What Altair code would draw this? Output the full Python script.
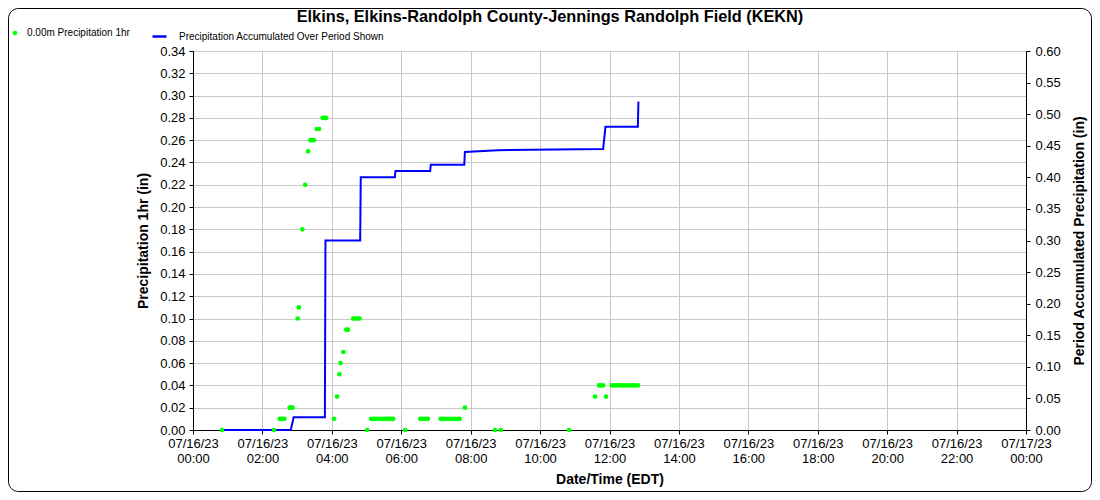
import altair as alt
import pandas as pd

DAY = "2023-07-16T"

# Hourly precipitation reports (time EDT, inches)
pt_times = [
    "00:50", "02:20", "02:30", "02:34", "02:38", "02:47", "02:50", "02:52",
    "03:01", "03:03", "03:09", "03:14", "03:19", "03:23", "03:26", "03:29",
    "03:34", "03:38", "03:44", "03:47", "03:50",
    "04:04", "04:09", "04:13", "04:15", "04:20", "04:25", "04:28",
    "04:37", "04:40", "04:44", "04:48",
    "05:01", "05:08", "05:12", "05:16", "05:20", "05:24", "05:28", "05:32",
    "05:36", "05:40", "05:44", "05:46",
    "06:07", "06:33", "06:37", "06:41", "06:46",
    "07:08", "07:13", "07:18", "07:23", "07:28", "07:33", "07:38", "07:41",
    "07:50", "08:42", "08:52", "10:50",
    "11:35", "11:42", "11:45", "11:49", "11:54",
    "12:04", "12:08", "12:13", "12:17", "12:22", "12:26", "12:31", "12:35",
    "12:40", "12:44", "12:49",
]
pt_values = [
    0.00, 0.00, 0.01, 0.01, 0.01, 0.02, 0.02, 0.02,
    0.10, 0.11, 0.18, 0.22, 0.25, 0.26, 0.26, 0.26,
    0.27, 0.27, 0.28, 0.28, 0.28,
    0.01, 0.03, 0.05, 0.06, 0.07, 0.09, 0.09,
    0.10, 0.10, 0.10, 0.10,
    0.00, 0.01, 0.01, 0.01, 0.01, 0.01, 0.01, 0.01,
    0.01, 0.01, 0.01, 0.01,
    0.00, 0.01, 0.01, 0.01, 0.01,
    0.01, 0.01, 0.01, 0.01, 0.01, 0.01, 0.01, 0.01,
    0.02, 0.00, 0.00, 0.00,
    0.03, 0.04, 0.04, 0.04, 0.03,
    0.04, 0.04, 0.04, 0.04, 0.04, 0.04, 0.04, 0.04,
    0.04, 0.04, 0.04,
]

# Accumulated precipitation over the period (time EDT, inches)
acc_times = [
    "00:50", "02:49", "02:54", "03:48", "03:49", "04:49", "04:50",
    "05:49", "05:50", "06:50", "06:51", "07:49", "07:50", "08:47",
    "11:49", "11:53", "12:49", "12:50",
]
acc_values = [
    0.00, 0.00, 0.02, 0.02, 0.30, 0.30, 0.40,
    0.40, 0.41, 0.41, 0.42, 0.42, 0.44, 0.443,
    0.445, 0.48, 0.48, 0.52,
]

left_ticks = [0.00, 0.02, 0.04, 0.06, 0.08, 0.10, 0.12, 0.14, 0.16, 0.18,
              0.20, 0.22, 0.24, 0.26, 0.28, 0.30, 0.32, 0.34]
right_ticks = [0.00, 0.05, 0.10, 0.15, 0.20, 0.25, 0.30, 0.35, 0.40, 0.45,
               0.50, 0.55, 0.60]
x_tick_hours = [0, 2, 4, 6, 8, 10, 12, 14, 16, 18, 20, 22, 24]

title_text = "Elkins, Elkins-Randolph County-Jennings Randolph Field (KEKN)"
pt_label = "0.00m Precipitation 1hr"
acc_label = "Precipitation Accumulated Over Period Shown"

FONT = "Liberation Sans"

pts = pd.DataFrame({
    "time": [DAY + t + ":00" for t in pt_times],
    "precip": pt_values,
    "series": pt_label,
})
acc = pd.DataFrame({
    "time": [DAY + t + ":00" for t in acc_times],
    "acc": acc_values,
    "series": acc_label,
})


def dt(h):
    return alt.DateTime(year=2023, month=7, date=16 + h // 24, hours=h % 24)


x_enc = alt.X(
    "time:T",
    scale=alt.Scale(domain=[dt(0), dt(24)]),
    axis=alt.Axis(
        title="Date/Time (EDT)",
        values=[dt(h) for h in x_tick_hours],
        labelExpr="[timeFormat(datum.value, '%m/%d/%y'), timeFormat(datum.value, '%H:%M')]",
        labelLineHeight=15,
        labelFontSize=13,
        labelFont=FONT,
        labelColor="black",
        labelAngle=0,
        labelFlush=False,
        labelOverlap=False,
        labelPadding=3,
        tickSize=4,
        tickColor="black",
        domainColor="black",
        grid=True,
        gridColor="#c8c8c8",
        titleFont=FONT,
        titleFontSize=14,
        titleFontWeight="bold",
        titleColor="black",
        titleBaseline="middle",
        titleY=49,
    ),
)

points = alt.Chart(pts).mark_point(filled=True, size=22, opacity=1).encode(
    x=x_enc,
    y=alt.Y(
        "precip:Q",
        scale=alt.Scale(domain=[0, 0.34], nice=False, zero=True),
        axis=alt.Axis(
            title="Precipitation 1hr (in)",
            values=left_ticks,
            format=".2f",
            labelFontSize=13,
            labelFont=FONT,
            labelColor="black",
            labelPadding=4,
            tickSize=4,
            tickColor="black",
            domainColor="black",
            grid=True,
            gridColor="#c8c8c8",
            titleFont=FONT,
            titleFontSize=14,
            titleFontWeight="bold",
            titleColor="black",
            titleAngle=270,
            titleAlign="center",
            titleBaseline="middle",
            titleX=-50,
            titleY=189.5,
        ),
    ),
    color=alt.Color(
        "series:N",
        scale=alt.Scale(range=["#00ff00"]),
        legend=alt.Legend(
            title=None,
            orient="none",
            legendX=-183,
            legendY=-23,
            symbolType="circle",
            symbolSize=22,
            labelFontSize=10,
            labelFont=FONT,
            labelColor="black",
            labelOffset=7,
            labelLimit=400,
        ),
    ),
)

line = alt.Chart(acc).mark_line(strokeWidth=2, interpolate="linear").encode(
    x=x_enc,
    y=alt.Y(
        "acc:Q",
        scale=alt.Scale(domain=[0, 0.6], nice=False, zero=True),
        axis=alt.Axis(
            title="Period Accumulated Precipitation (in)",
            orient="right",
            values=right_ticks,
            format=".2f",
            labelFontSize=13,
            labelFont=FONT,
            labelColor="black",
            labelPadding=5,
            tickSize=4,
            tickColor="black",
            domainColor="black",
            grid=False,
            titleFont=FONT,
            titleFontSize=14,
            titleFontWeight="bold",
            titleColor="black",
            titleAngle=270,
            titleAlign="center",
            titleBaseline="middle",
            titleX=53,
            titleY=189.5,
        ),
    ),
    color=alt.Color(
        "series:N",
        scale=alt.Scale(range=["#0000ff"]),
        legend=alt.Legend(
            title=None,
            orient="none",
            legendX=-42,
            legendY=-23,
            symbolType="stroke",
            symbolSize=196,
            symbolStrokeWidth=2.5,
            labelFontSize=10,
            labelFont=FONT,
            labelColor="black",
            labelOffset=11,
            labelLimit=400,
        ),
    ),
)

frame = alt.Chart(pd.DataFrame({"a": [0]})).mark_rect(
    fill=None, stroke="black", strokeWidth=1, cornerRadius=10
).encode(
    x=alt.value(-184.5), x2=alt.value(898.5),
    y=alt.value(-42.5), y2=alt.value(440.5),
)

chart = (
    alt.layer(frame, line, points)
    .resolve_scale(y="independent", color="independent")
    .resolve_legend(color="independent")
    .properties(
        width=833,
        height=379,
        autosize=alt.AutoSizeParams(type="none"),
        padding={"left": 185, "top": 43, "right": 66, "bottom": 62},
        title=alt.Title(
            title_text,
            font=FONT,
            fontSize=16.3,
            fontWeight="bold",
            color="black",
            anchor="middle",
            frame="bounds",
            baseline="alphabetic",
            offset=-30,
        ),
    )
    .configure_view(stroke="black", strokeWidth=1)
)

chart.save("out.html", embed_options={"renderer": "svg", "actions": False})
